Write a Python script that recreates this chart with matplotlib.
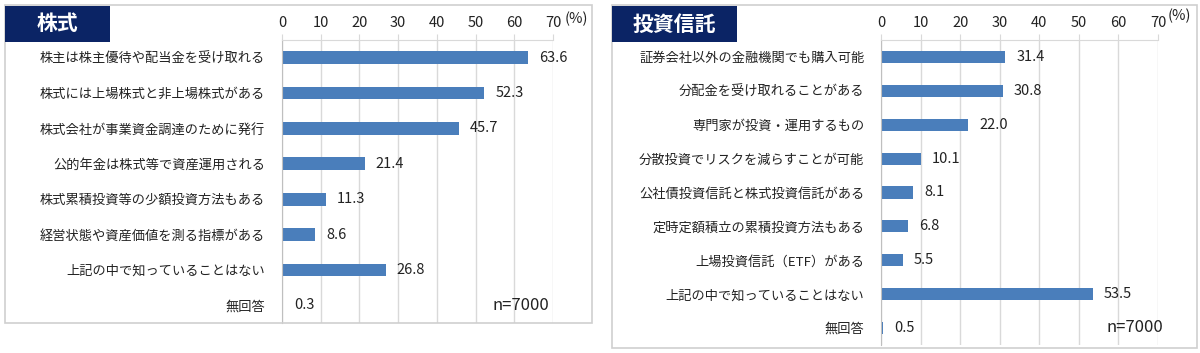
"""
株式・投資信託について知っていること (n=7000)
"""
import matplotlib
matplotlib.use("Agg")
import matplotlib.pyplot as plt
from matplotlib.patches import Rectangle

plt.rcParams["font.family"] = ["Noto Sans CJK JP", "DejaVu Sans"]

# ── データ ──
stock_labels = [
    "株主は株主優待や配当金を受け取れる",
    "株式には上場株式と非上場株式がある",
    "株式会社が事業資金調達のために発行",
    "公的年金は株式等で資産運用される",
    "株式累積投資等の少額投資方法もある",
    "経営状態や資産価値を測る指標がある",
    "上記の中で知っていることはない",
    "無回答",
]
stock_values = [63.6, 52.3, 45.7, 21.4, 11.3, 8.6, 26.8, 0.3]

fund_labels = [
    "証券会社以外の金融機関でも購入可能",
    "分配金を受け取れることがある",
    "専門家が投資・運用するもの",
    "分散投資でリスクを減らすことが可能",
    "公社債投資信託と株式投資信託がある",
    "定時定額積立の累積投資方法もある",
    "上場投資信託（ETF）がある",
    "上記の中で知っていることはない",
    "無回答",
]
fund_values = [31.4, 30.8, 22.0, 10.1, 8.1, 6.8, 5.5, 53.5, 0.5]

ticks = [0, 10, 20, 30, 40, 50, 60, 70]
n_text = "n=7000"

BAR = "#4a7ebb"
GRID = "#d9d9d9"
NAVY = "#0b2465"

W, H = 1200, 353
fig = plt.figure(figsize=(W / 100, H / 100), dpi=100)


def px(x0, y0, x1, y1):
    # ピクセル座標 (左上原点) → figure 座標
    return [x0 / W, 1 - y1 / H, (x1 - x0) / W, (y1 - y0) / H]


def panel(box, title_box, title, ax_box, labels, values, n_pos, pct_pos):
    # 外枠
    bx0, by0, bx1, by1 = box
    fig.patches.append(Rectangle((bx0 / W, 1 - by1 / H), (bx1 - bx0) / W, (by1 - by0) / H,
                                 transform=fig.transFigure, fill=False,
                                 edgecolor="#cfcfcf", lw=1.2))
    tx0, ty0, tx1, ty1 = title_box
    fig.patches.append(Rectangle((tx0 / W, 1 - ty1 / H), (tx1 - tx0) / W, (ty1 - ty0) / H,
                                 transform=fig.transFigure, facecolor=NAVY,
                                 edgecolor="none"))
    fig.text((tx0 + tx1) / 2 / W, 1 - (ty0 + ty1) / 2 / H, title, color="white",
             fontsize=15, fontweight="bold", ha="center", va="center")

    ax = fig.add_axes(px(*ax_box))
    y = list(range(len(labels)))
    ax.barh(y, values, height=0.36, color=BAR)
    for yi, v in zip(y, values):
        ax.text(v + 2.8, yi, f"{v:.1f}", va="center", ha="left", fontsize=10.5,
                color="#222222")
    ax.set_xlim(0, 70)
    ax.set_ylim(len(labels) - 0.5, -0.5)
    ax.set_yticks(y)
    ax.set_yticklabels(labels, fontsize=9.5, color="#222222")
    ax.set_xticks(ticks)
    ax.xaxis.tick_top()
    ax.tick_params(axis="x", length=4, color=GRID, labelsize=10.5, pad=3,
                   labelcolor="#222222")
    ax.tick_params(axis="y", length=0, pad=12)
    ax.grid(True, axis="x", color=GRID, lw=1)
    ax.set_axisbelow(True)
    for s in ["right", "bottom"]:
        ax.spines[s].set_visible(False)
    ax.spines["top"].set_color(GRID)
    ax.spines["left"].set_color("#bfbfbf")
    fig.text(pct_pos[0] / W, 1 - pct_pos[1] / H, "(%)", fontsize=10.5,
             color="#222222", ha="center", va="center")
    fig.text(n_pos[0] / W, 1 - n_pos[1] / H, n_text, fontsize=12, ha="center",
             va="center", color="#222222")
    return ax


panel((5, 5, 592, 323), (5, 6, 110, 42), "株式", (282, 40, 553, 323),
      stock_labels, stock_values, (521, 306), (576, 19))
panel((612, 5, 1197, 348), (612, 6, 737, 42), "投資信託", (881, 40, 1158, 345),
      fund_labels, fund_values, (1135, 328), (1179, 16))

fig.savefig("out.png", dpi=100)
